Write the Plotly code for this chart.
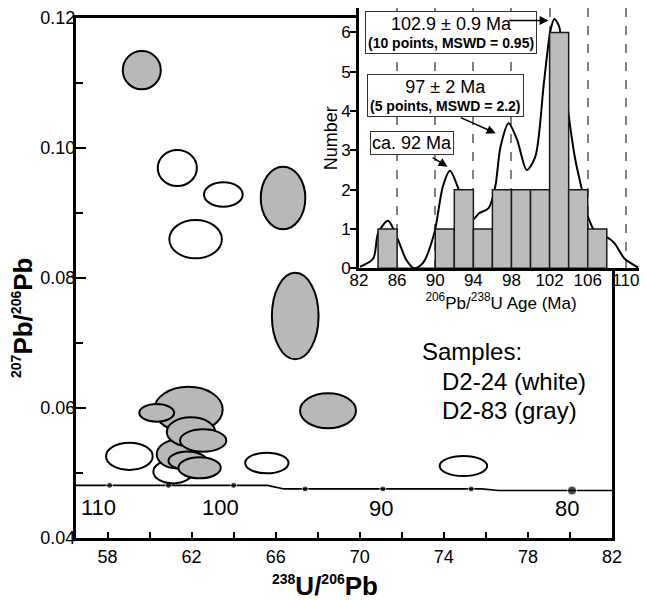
import plotly.graph_objects as go

# ---------------- main Tera-Wasserburg plot data ----------------
# white ellipses (sample D2-24): centre x, centre y, semi-axis x, semi-axis y
white_cx = [61.32, 63.51, 62.19, 61.12, 59.04, 65.58, 74.93]
white_cy = [0.09692, 0.09285, 0.08597, 0.0502, 0.05257, 0.05154, 0.05108]
white_sx = [0.93, 0.92, 1.25, 0.94, 1.11, 1.03, 1.13]
white_sy = [0.00277, 0.00188, 0.00295, 0.0018, 0.0021, 0.00159, 0.00154]

# gray ellipses (sample D2-83)
gray_cx = [59.63, 66.35, 66.93, 68.49, 61.85, 61.29, 61.97, 62.55, 60.34, 61.81, 62.38]
gray_cy = [0.11197, 0.09231, 0.07415, 0.05957, 0.05975, 0.05289, 0.05631, 0.0550, 0.05926, 0.05188, 0.0508]
gray_sx = [0.905, 1.06, 1.11, 1.33, 1.63, 0.95, 1.15, 1.10, 0.83, 0.91, 1.01]
gray_sy = [0.00295, 0.00482, 0.00666, 0.00269, 0.0035, 0.00218, 0.00226, 0.00172, 0.00136, 0.00141, 0.00162]

# concordia
conc_x = [56.5, 65.6, 66.4, 75.8, 76.6, 82.0]
conc_y = [0.0481, 0.0481, 0.04755, 0.04755, 0.0473, 0.0473]
dot_x = [58.1, 60.9, 64.0, 67.4, 71.1, 75.3, 80.1]
dot_y = [0.0481, 0.0481, 0.0481, 0.04755, 0.04755, 0.04755, 0.0473]
dot_size = [6, 6, 6, 6, 6, 6, 9]
age_labels = ["110", "100", "90", "80"]
age_label_x = [57.58, 63.36, 71.0, 79.85]
age_label_y = [0.0447, 0.0447, 0.0446, 0.0446]

main_xticks = [58, 62, 66, 70, 74, 78, 82]
main_xminor = [60, 64, 68, 72, 76, 80]
main_yticks = [0.04, 0.06, 0.08, 0.10, 0.12]
main_yticktext = ["0.04", "0.06", "0.08", "0.10", "0.12"]
main_yminor = [0.05, 0.07, 0.09, 0.11]

# ---------------- inset histogram data ----------------
bin_centers = [85, 87, 89, 91, 93, 95, 97, 99, 101, 103, 105, 107]
bin_counts = [1, 0, 0, 1, 2, 1, 2, 2, 2, 6, 2, 1]
pdf_age = [82.1, 83.5, 84.0, 85.05, 86.1, 86.97, 87.8, 88.7, 89.9, 90.8, 91.55, 92.5,
           93.84, 94.6, 95.6, 96.3, 96.85, 97.7, 98.6, 99.6, 100.5, 101.4, 102.1, 102.5,
           103.0, 103.8, 104.7, 105.4, 105.9, 106.9, 108.0, 108.8, 109.85, 111.3]
pdf_num = [0.04, 0.25, 0.89, 1.21, 0.72, 0.21, 0.0, 0.13, 0.89, 2.08, 2.48, 1.99,
           1.23, 1.40, 1.53, 2.08, 3.09, 3.69, 3.26, 2.5, 2.84, 4.71, 6.06, 6.34,
           6.15, 4.28, 2.76, 1.99, 1.40, 0.89, 0.79, 0.64, 0.25, 0.02]
inset_xticks = [82, 86, 90, 94, 98, 102, 106, 110]
inset_yticks = [0, 1, 2, 3, 4, 5, 6]

FONT = "Liberation Sans, Arial, sans-serif"
BOLD_SUP = '<sup><span style="font-size:14px">{}</span></sup>'

fig = go.Figure()
fig.add_trace(go.Scatter(x=conc_x, y=conc_y, mode="lines", line=dict(color="black", width=1.6),
                         xaxis="x", yaxis="y", hoverinfo="skip"))
fig.add_trace(go.Scatter(x=dot_x, y=dot_y, mode="markers",
                         marker=dict(color="black", size=dot_size), xaxis="x", yaxis="y", hoverinfo="skip"))
fig.add_trace(go.Scatter(x=pdf_age, y=pdf_num, mode="lines",
                         line=dict(color="black", width=2, shape="spline", smoothing=0.8),
                         xaxis="x2", yaxis="y2", hoverinfo="skip"))
fig.add_trace(go.Bar(x=bin_centers, y=bin_counts, width=2,
                     marker=dict(color="#bcbcbc", line=dict(color="#1a1a1a", width=1.5)),
                     xaxis="x3", yaxis="y3", hoverinfo="skip"))

shapes = []
for cx, cy, sx, sy in zip(white_cx, white_cy, white_sx, white_sy):
    shapes.append(dict(type="circle", xref="x", yref="y", x0=cx - sx, x1=cx + sx, y0=cy - sy, y1=cy + sy,
                       fillcolor="white", line=dict(color="black", width=2), layer="above"))
for cx, cy, sx, sy in zip(gray_cx, gray_cy, gray_sx, gray_sy):
    shapes.append(dict(type="circle", xref="x", yref="y", x0=cx - sx, x1=cx + sx, y0=cy - sy, y1=cy + sy,
                       fillcolor="#b8b8b8", line=dict(color="black", width=2), layer="above"))

ann = []
for t, x, y in zip(age_labels, age_label_x, age_label_y):
    ann.append(dict(text=t, x=x, y=y, xref="x", yref="y", showarrow=False,
                    font=dict(size=22, color="black", family=FONT)))
ann.append(dict(text="Samples:", x=72.88, y=0.06866, xref="x", yref="y", xanchor="left", showarrow=False,
                font=dict(size=24, color="black", family=FONT)))
ann.append(dict(text="D2-24 (white)", x=73.83, y=0.06415, xref="x", yref="y", xanchor="left", showarrow=False,
                font=dict(size=24, color="black", family=FONT)))
ann.append(dict(text="D2-83 (gray)", x=73.83, y=0.05954, xref="x", yref="y", xanchor="left", showarrow=False,
                font=dict(size=24, color="black", family=FONT)))
# axis titles
ann.append(dict(text="<b>" + BOLD_SUP.format("238") + "U/" + BOLD_SUP.format("206") + "Pb</b>",
                x=0.4392, y=-0.1227, xref="paper", yref="paper", showarrow=False,
                font=dict(size=26, color="black", family=FONT)))
ann.append(dict(text="<b>" + BOLD_SUP.format("207") + "Pb/" + BOLD_SUP.format("206") + "Pb</b>",
                x=-0.1235, y=0.4151, xref="paper", yref="paper", showarrow=False, textangle=-90,
                font=dict(size=26, color="black", family=FONT)))
# inset boxes
ann.append(dict(text='<span style="font-size:18px">102.9 ± 0.9 Ma</span><br><b>(10 points, MSWD = 0.95)</b>',
                x=91.69, y=6.0, xref="x2", yref="y2", showarrow=False, bgcolor="white",
                bordercolor="#333", borderwidth=1, borderpad=2,
                font=dict(size=14, color="black", family=FONT)))
ann.append(dict(text='<span style="font-size:18px">97 ± 2 Ma</span><br><b>(5 points, MSWD = 2.2)</b>',
                x=91.09, y=4.39, xref="x2", yref="y2", showarrow=False, bgcolor="white",
                bordercolor="#333", borderwidth=1, borderpad=2,
                font=dict(size=14, color="black", family=FONT)))
ann.append(dict(text="ca. 92 Ma", x=87.52, y=3.18, xref="x2", yref="y2", showarrow=False, bgcolor="white",
                bordercolor="#333", borderwidth=1, borderpad=1,
                font=dict(size=18, color="black", family=FONT)))
# arrows
for hx, hy, tx, ty in [(101.9, 6.30, 97.6, 6.30), (96.34, 3.435, 92.52, 3.85), (91.30, 2.585, 89.57, 2.84)]:
    ann.append(dict(text="", x=hx, y=hy, ax=tx, ay=ty, xref="x2", yref="y2", axref="x2", ayref="y2",
                    showarrow=True, arrowhead=2, arrowsize=1.2, arrowwidth=1.5, arrowcolor="black"))

tickfont = dict(size=17, color="black", family=FONT)

# the page adds an 8px body margin, so the figure is drawn 8px smaller and shifted
fig.update_layout(
    width=639, height=592,
    margin=dict(l=68, r=4, t=0, b=62, autoexpand=False),
    paper_bgcolor="white", plot_bgcolor="white",
    showlegend=False,
    shapes=shapes, annotations=ann,
    xaxis=dict(domain=[0, 0.9453], range=[56.5, 82], anchor="y", automargin=False,
               tickvals=main_xticks, ticks="inside", ticklen=6, tickwidth=1.5, tickcolor="black",
               minor=dict(tickvals=main_xminor, ticks="inside", ticklen=6, tickwidth=1.5, tickcolor="black"),
               showline=True, linewidth=3, linecolor="black", mirror=True,
               showgrid=False, zeroline=False, tickfont=dict(size=18, color="black", family=FONT)),
    yaxis=dict(domain=[0, 0.98113], range=[0.04, 0.12], anchor="x", automargin=False,
               tickvals=main_yticks, ticktext=main_yticktext,
               ticks="inside", ticklen=10, tickwidth=1.5, tickcolor="black", ticklabelstandoff=-6,
               minor=dict(tickvals=main_yminor, ticks="inside", ticklen=7, tickwidth=1.5, tickcolor="black"),
               showline=True, linewidth=3, linecolor="black", mirror=True,
               showgrid=False, zeroline=False, tickfont=dict(size=18, color="black", family=FONT)),
    xaxis2=dict(domain=[0.4991, 1.0], range=[82, 111.8], anchor="y2", automargin=False,
                tickvals=inset_xticks, ticks="", ticklabelstandoff=-5,
                showgrid=True, gridcolor="#808080", griddash="dash", gridwidth=1.5,
                showline=True, linewidth=2.5, linecolor="black", mirror=True, zeroline=False,
                tickfont=tickfont,
                title=dict(text="<sup>206</sup>Pb/<sup>238</sup>U Age (Ma)", standoff=0,
                           font=dict(size=17, color="black", family=FONT))),
    yaxis2=dict(domain=[0.50887, 1.0], range=[0, 6.62], anchor="x2", automargin=False,
                tickvals=inset_yticks, ticks="outside", ticklen=6, tickwidth=1.5, tickcolor="black",
                ticklabelstandoff=-4,
                showline=True, linewidth=2.5, linecolor="black", mirror=True,
                showgrid=False, zeroline=False, tickfont=tickfont,
                title=dict(text="Number", standoff=0, font=dict(size=18, color="black", family=FONT))),
    xaxis3=dict(overlaying="x2", range=[82, 111.8], anchor="y3", visible=False),
    yaxis3=dict(overlaying="y2", range=[0, 6.62], anchor="x3", visible=False),
)

fig.write_html("out.html")
